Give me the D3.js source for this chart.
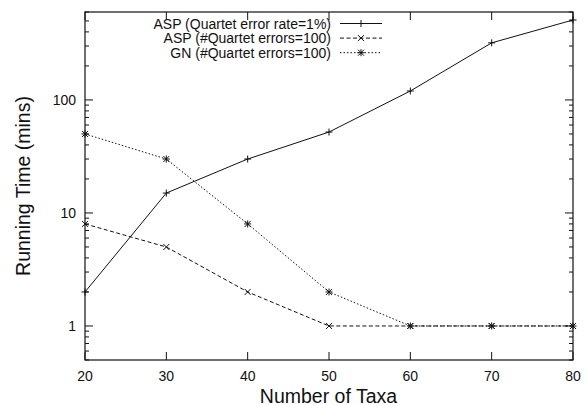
<!DOCTYPE html>
<html>
<head>
<meta charset="utf-8">
<script src="https://cdn.jsdelivr.net/npm/d3@7"></script>
<style>
  html, body { margin: 0; padding: 0; background: #fff; }
  svg { display: block; font-family: "Liberation Sans", Arial, Helvetica, sans-serif; }
</style>
</head>
<body>
<svg id="chart" width="588" height="405"></svg>
<script>
// Number of taxa on the x axis
const taxa = [20, 30, 40, 50, 60, 70, 80];
// Running times in minutes
const aspRate = [2, 15, 30, 52, 120, 320, 510];
const aspErrors = [8, 5, 2, 1, 1, 1, 1];
const gnErrors = [50, 30, 8, 2, 1, 1, 1];
const seriesNames = [
  "ASP (Quartet error rate=1%)",
  "ASP (#Quartet errors=100)",
  "GN (#Quartet errors=100)"
];
const xTicks = [20, 30, 40, 50, 60, 70, 80];
const yMajor = [1, 10, 100];

const svg = d3.select("#chart");
const plotL = 85, plotR = 573, plotT = 12, plotB = 360;

const x = d3.scaleLinear().domain([20, 80]).range([plotL, plotR]);
const y = d3.scaleLog().domain([0.5, 600]).range([plotB, plotT]);

const ink = "#111";

// minor log ticks: 2..9 times each decade, within the domain
const yMinor = [];
[0.1, 1, 10, 100].forEach(d => {
  for (let k = 2; k <= 9; k++) {
    const v = d * k;
    if (v >= 0.5 && v <= 600 && !yMajor.includes(v)) yMinor.push(v);
  }
});

const g = svg.append("g");

// frame
g.append("rect")
  .attr("x", plotL).attr("y", plotT)
  .attr("width", plotR - plotL).attr("height", plotB - plotT)
  .attr("fill", "none").attr("stroke", ink).attr("stroke-width", 1.2);

// x ticks, inward on bottom and top
xTicks.forEach(t => {
  const px = x(t);
  g.append("line").attr("x1", px).attr("x2", px).attr("y1", plotB).attr("y2", plotB - 8)
    .attr("stroke", ink).attr("stroke-width", 1);
  g.append("line").attr("x1", px).attr("x2", px).attr("y1", plotT).attr("y2", plotT + 8)
    .attr("stroke", ink).attr("stroke-width", 1);
  g.append("text").attr("x", px).attr("y", plotB + 21)
    .attr("text-anchor", "middle").attr("font-size", 14).attr("fill", ink)
    .text(t);
});

// y ticks, inward on left and right
yMajor.forEach(t => {
  const py = y(t);
  g.append("line").attr("x1", plotL).attr("x2", plotL + 8).attr("y1", py).attr("y2", py)
    .attr("stroke", ink).attr("stroke-width", 1);
  g.append("line").attr("x1", plotR).attr("x2", plotR - 8).attr("y1", py).attr("y2", py)
    .attr("stroke", ink).attr("stroke-width", 1);
  g.append("text").attr("x", plotL - 9).attr("y", py).attr("dy", "0.36em")
    .attr("text-anchor", "end").attr("font-size", 14).attr("fill", ink)
    .text(d3.format("d")(t));
});
yMinor.forEach(t => {
  const py = y(t);
  g.append("line").attr("x1", plotL).attr("x2", plotL + 4).attr("y1", py).attr("y2", py)
    .attr("stroke", ink).attr("stroke-width", 1);
  g.append("line").attr("x1", plotR).attr("x2", plotR - 4).attr("y1", py).attr("y2", py)
    .attr("stroke", ink).attr("stroke-width", 1);
});

// axis titles
svg.append("text").attr("x", (plotL + plotR) / 2 - 0.5).attr("y", 402.5)
  .attr("text-anchor", "middle").attr("font-size", 19.5).attr("fill", ink)
  .text("Number of Taxa");
svg.append("text")
  .attr("transform", `translate(30,${(plotT + plotB) / 2}) rotate(-90)`)
  .attr("text-anchor", "middle").attr("font-size", 19.5).attr("fill", ink)
  .text("Running Time (mins)");

// series
const styles = [
  { data: aspRate, dash: null, marker: "plus" },
  { data: aspErrors, dash: "4,2.5", marker: "cross" },
  { data: gnErrors, dash: "1.5,2", marker: "star" }
];

function drawMarker(sel, kind, cx, cy) {
  const s = 3.5;
  const m = sel.append("g").attr("transform", `translate(${cx},${cy})`)
    .attr("stroke", ink).attr("stroke-width", 1).attr("fill", "none");
  if (kind === "plus" || kind === "star") {
    m.append("line").attr("x1", -s).attr("x2", s).attr("y1", 0).attr("y2", 0);
    m.append("line").attr("x1", 0).attr("x2", 0).attr("y1", -s).attr("y2", s);
  }
  if (kind === "cross" || kind === "star") {
    const c = 3;
    m.append("line").attr("x1", -c).attr("x2", c).attr("y1", -c).attr("y2", c);
    m.append("line").attr("x1", -c).attr("x2", c).attr("y1", c).attr("y2", -c);
  }
}

const line = d3.line().x((d, i) => x(taxa[i])).y(d => y(d));

styles.forEach(st => {
  g.append("path").datum(st.data)
    .attr("d", line)
    .attr("fill", "none").attr("stroke", ink).attr("stroke-width", 1)
    .attr("stroke-dasharray", st.dash);
  st.data.forEach((v, i) => drawMarker(g, st.marker, x(taxa[i]), y(v)));
});

// legend
const legX = 331, legY0 = 23.5, legDY = 14.6;
styles.forEach((st, i) => {
  const ly = legY0 + i * legDY;
  g.append("text").attr("x", legX).attr("y", ly).attr("dy", "0.36em")
    .attr("text-anchor", "end").attr("font-size", 14).attr("fill", ink)
    .text(seriesNames[i]);
  g.append("line").attr("x1", 340).attr("x2", 382).attr("y1", ly).attr("y2", ly)
    .attr("stroke", ink).attr("stroke-width", 1).attr("stroke-dasharray", st.dash);
  drawMarker(g, st.marker, 361, ly);
});
</script>
</body>
</html>
